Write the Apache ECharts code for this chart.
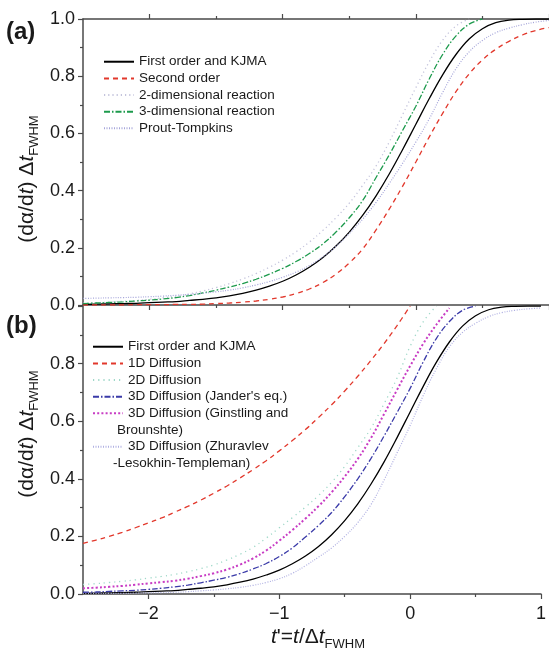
<!DOCTYPE html>
<html>
<head>
<meta charset="utf-8">
<script src="https://cdn.jsdelivr.net/npm/echarts@6/dist/echarts.min.js"></script>
<style>
html,body{margin:0;padding:0;background:#fff;}
#chart{width:549px;height:654px;}
</style>
</head>
<body>
<div id="chart"></div>
<script>
// ---------- data ----------
const T = [-2.5,-2.4,-2.3,-2.2,-2.1,-2.0,-1.9,-1.8,-1.7,-1.6,-1.5,-1.4,-1.3,-1.2,-1.1,-1.0,-0.9,-0.8,-0.7,-0.6,-0.5,-0.4,-0.3,-0.2,-0.1,0.0,0.1,0.2,0.3,0.4,0.5,0.6,0.7,0.8,0.9,1.0];

// panel (a)
const firstOrder    = [0.002,0.003,0.004,0.005,0.006,0.008,0.010,0.012,0.016,0.020,0.025,0.032,0.041,0.052,0.066,0.083,0.105,0.132,0.165,0.206,0.255,0.313,0.381,0.458,0.543,0.632,0.721,0.804,0.875,0.930,0.966,0.987,0.996,0.999,1.0,1.0];
const secondOrder   = [0.000,0.000,0.000,0.000,0.001,0.001,0.001,0.002,0.002,0.003,0.005,0.007,0.010,0.014,0.020,0.028,0.040,0.056,0.078,0.108,0.147,0.196,0.262,0.335,0.415,0.500,0.587,0.669,0.745,0.808,0.857,0.894,0.922,0.944,0.960,0.970];
const reaction2D    = [0.006,0.008,0.010,0.013,0.016,0.020,0.025,0.031,0.039,0.049,0.061,0.075,0.091,0.110,0.132,0.157,0.186,0.220,0.260,0.305,0.356,0.418,0.485,0.570,0.665,0.760,0.850,0.925,0.975,1.0,null,null,null,null,null,null];
const reaction3D    = [0.005,0.007,0.009,0.011,0.014,0.017,0.021,0.026,0.033,0.042,0.052,0.063,0.075,0.090,0.108,0.128,0.152,0.180,0.213,0.255,0.305,0.365,0.445,0.525,0.610,0.695,0.790,0.875,0.940,0.982,1.0,null,null,null,null,null];
const proutTompkins = [0.023,0.024,0.025,0.026,0.027,0.029,0.031,0.034,0.037,0.041,0.046,0.052,0.060,0.070,0.082,0.097,0.115,0.138,0.168,0.205,0.250,0.300,0.358,0.425,0.495,0.570,0.650,0.742,0.825,0.885,0.925,0.952,0.968,0.980,0.989,0.995];

// panel (b)
const diffusion1D   = [0.176,0.187,0.200,0.214,0.230,0.247,0.264,0.284,0.304,0.326,0.350,0.375,0.403,0.432,0.463,0.497,0.533,0.571,0.613,0.657,0.705,0.756,0.811,0.869,0.932,1.0,null,null,null,null,null,null,null,null,null,null];
const diffusion2D   = [0.033,0.036,0.040,0.044,0.049,0.055,0.061,0.068,0.077,0.088,0.101,0.118,0.138,0.162,0.194,0.230,0.265,0.302,0.342,0.388,0.443,0.508,0.575,0.660,0.750,0.860,0.945,1.0,null,null,null,null,null,null,null,null];
const jander3D      = [0.006,0.007,0.009,0.011,0.013,0.016,0.020,0.025,0.031,0.039,0.048,0.058,0.071,0.087,0.106,0.130,0.160,0.198,0.238,0.283,0.338,0.400,0.470,0.548,0.630,0.714,0.806,0.887,0.946,0.985,1.0,null,null,null,null,null];
const ginstling3D   = [0.020,0.022,0.025,0.028,0.032,0.037,0.041,0.046,0.053,0.062,0.072,0.085,0.102,0.124,0.151,0.185,0.222,0.262,0.305,0.353,0.408,0.469,0.541,0.624,0.709,0.792,0.869,0.935,0.993,null,null,null,null,null,null,null];
const zlt3D         = [0.001,0.001,0.002,0.002,0.003,0.004,0.005,0.006,0.008,0.011,0.014,0.018,0.023,0.030,0.040,0.053,0.072,0.098,0.128,0.160,0.200,0.248,0.310,0.395,0.490,0.585,0.689,0.782,0.858,0.908,0.940,0.963,0.977,0.985,0.990,0.993];

const xTicks = [-2, -1, 0, 1];
const xMinorTicks = [-1.5, -0.5, 0.5];

const namesA = ['First order and KJMA','Second order','2-dimensional reaction','3-dimensional reaction','Prout-Tompkins'];
const namesB = ['First order and KJMA','1D Diffusion','2D Diffusion',"3D Diffusion (Jander's eq.)",'3D Diffusion (Ginstling and Brounshte)','3D Diffusion (Zhuravlev -Lesokhin-Templeman)'];

// ---------- styles ----------
const F = '"Liberation Sans", Arial, Helvetica, sans-serif';
const AX = '#4a4a4a';
const TXT = '#1a1a1a';

const stylesA = [
  {data: firstOrder,    color:'#000000', type:'solid',    width:1.3},
  {data: secondOrder,   color:'#e2382c', type:[5,4],      width:1.3},
  {data: reaction2D,    color:'#c4c4dc', type:[1.2,3],    width:1.3},
  {data: reaction3D,    color:'#1c9a4c', type:[6,2,1.5,2],width:1.3},
  {data: proutTompkins, color:'#a6a6da', type:[1,1.5],    width:1.2}
];
const stylesB = [
  {data: firstOrder,  color:'#000000', type:'solid',     width:1.3},
  {data: diffusion1D, color:'#e2382c', type:[5,4],       width:1.3},
  {data: diffusion2D, color:'#9fd8c8', type:[1.2,4],     width:1.3},
  {data: jander3D,    color:'#3a3aa8', type:[6,2,1.5,2], width:1.3},
  {data: ginstling3D, color:'#c83cc4', type:[2,2.2],     width:2},
  {data: zlt3D,       color:'#b0b0e2', type:[1,1.5],     width:1.2}
];

function pts(arr){ return T.map((x,i)=>[x, arr[i]]).filter(p => p[1] !== null); }

function mkSeries(names, styles, xi, yi){
  return names.map((n,i)=>({
    name: n, type:'line', xAxisIndex: xi, yAxisIndex: yi,
    data: pts(styles[i].data), symbol:'none', smooth: 0.4, clip: true,
    lineStyle:{color: styles[i].color, type: styles[i].type, width: styles[i].width},
    itemStyle:{color: styles[i].color},
    emphasis:{disabled:true}, animation:false
  }));
}

function xAxisDef(grid, pos, major, labels){
  return {
    type:'value', gridIndex: grid, position: pos, min:-2.5, max:1,
    axisLine:{show: major, onZero:false, lineStyle:{color:AX, width:1.5}},
    axisTick:{show:true, inside:false, length: major ? 5 : 3, customValues: major ? xTicks : xMinorTicks, lineStyle:{color:AX, width:1.2}},
    axisLabel:{show: labels, customValues: xTicks, fontSize:18, fontFamily:F, color:TXT, margin:11,
      formatter: v => String(v).replace('-', '\u2212')},
    splitLine:{show:false}
  };
}
function yAxisDef(grid, hideTop){
  return {
    type:'value', gridIndex: grid, min:0, max:1, interval:0.2,
    axisLine:{show:true, onZero:false, lineStyle:{color:AX, width:1.5}},
    axisTick:{show:true, inside:false, length:5, lineStyle:{color:AX, width:1.2}},
    minorTick:{show:true, splitNumber:2, length:3, lineStyle:{color:AX, width:1.2}},
    axisLabel:{fontSize:18, fontFamily:F, color:TXT, margin:8,
      formatter: v => (hideTop && v > 0.9) ? '' : v.toFixed(1)},
    splitLine:{show:false}, minorSplitLine:{show:false}
  };
}

const legendText = {fontSize:13.5, lineHeight:16.65, fontFamily:F, color:TXT};
const legendFirstLine = {
  '3D Diffusion (Ginstling and Brounshte)': '3D Diffusion (Ginstling and',
  '3D Diffusion (Zhuravlev -Lesokhin-Templeman)': '3D Diffusion (Zhuravlev'
};
function legendDef(data, left, top){
  return {data, left, top, orient:'vertical', itemWidth:30, itemHeight:10, itemGap:0, padding:0,
    textStyle: legendText, selectedMode:false,
    itemStyle:{opacity:0, borderWidth:0},
    formatter: n => legendFirstLine[n] || n};
}

const rich = {
  it:{fontStyle:'italic', fontSize:21, fontFamily:F, lineHeight:28},
  n:{fontSize:21, fontFamily:F, lineHeight:28},
  sub:{fontSize:13, fontFamily:F, lineHeight:14, verticalAlign:'bottom'}
};
function titleText(x, y, text, rot){
  return {type:'text', x, y, rotation: rot, silent:true,
    style:{text, rich, fill:TXT, font:'21px ' + F, align:'center', verticalAlign:'middle', textAlign:'center', textVerticalAlign:'middle'}};
}
function plainText(x, y, text, font){
  return {type:'text', x, y, silent:true,
    style:{text, fill:TXT, font, align:'left', verticalAlign:'middle', textAlign:'left', textVerticalAlign:'middle'}};
}

const yTitle = '{n|(d\u03b1/d}{it|t}{n|) \u0394}{it|t}{sub|FWHM}';
const xTitle = "{it|t}{n|'=}{it|t}{n|/\u0394}{it|t}{sub|FWHM}";

const option = {
  animation:false,
  backgroundColor:'#ffffff',
  grid:[
    {left:83, top:19, width:467, height:286},
    {left:83, top:306, width:467, height:288}
  ],
  xAxis:[
    xAxisDef(0,'bottom',true,false),
    xAxisDef(0,'bottom',false,false),
    xAxisDef(0,'top',true,false),
    xAxisDef(0,'top',false,false),
    xAxisDef(1,'bottom',true,true),
    xAxisDef(1,'bottom',false,false)
  ],
  yAxis:[ yAxisDef(0,false), yAxisDef(1,true) ],
  legend:[
    legendDef(namesA, 103, 53.4),
    legendDef(namesB.slice(0,5), 92, 338.4),
    legendDef(namesB.slice(5), 92, 438.4)
  ],
  series: [].concat(mkSeries(namesA, stylesA, 0, 0), mkSeries(namesB, stylesB, 4, 1)),
  graphic:[
    plainText(6, 32, '(a)', 'bold 24px ' + F),
    plainText(6, 326, '(b)', 'bold 24px ' + F),
    titleText(27, 179, yTitle, Math.PI/2),
    titleText(27, 434, yTitle, Math.PI/2),
    titleText(318, 637, xTitle, 0),
    plainText(117, 430, 'Brounshte)', '13.5px ' + F),
    plainText(113, 463.3, '-Lesokhin-Templeman)', '13.5px ' + F)
  ]
};

const chart = echarts.init(document.getElementById('chart'), null, {renderer:'canvas'});
chart.setOption(option);
</script>
</body>
</html>
